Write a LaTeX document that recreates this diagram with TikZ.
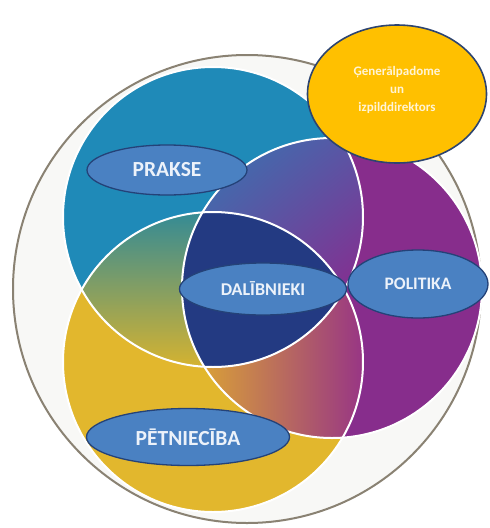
\documentclass[tikz,border=0pt]{standalone}
\usepackage{fontspec}
\setmainfont{Carlito}
\usetikzlibrary{shapes.geometric,shadings}
\definecolor{outerfill}{RGB}{248,248,246}
\definecolor{outeredge}{RGB}{138,130,115}
\definecolor{prblue}{RGB}{31,138,184}
\definecolor{pryellow}{RGB}{226,183,45}
\definecolor{prpurple}{RGB}{135,45,140}
\definecolor{prnavy}{RGB}{35,58,130}
\definecolor{lblfill}{RGB}{74,129,194}
\definecolor{lbledge}{RGB}{36,66,120}
\definecolor{lbltext}{RGB}{236,242,250}
\definecolor{genfill}{RGB}{255,192,0}
\definecolor{genedge}{RGB}{45,68,112}
\begin{document}
\begin{tikzpicture}[x=1pt, y=-1pt,
    lbl/.style={ellipse, draw=lbledge, line width=1.3pt, fill=lblfill, text=lbltext, inner sep=0pt},
    rim/.style={draw=white, line width=2pt}]
  \useasboundingbox (0,0) rectangle (490,528);
  % outer ring
  \draw [fill=outerfill, draw=outeredge, line width=2pt] (247,289) circle (234);
  % three big circles
  \fill [prblue] (213,217) circle (150);
  \fill [pryellow] (213,362) circle (150);
  \fill [prpurple] (332,288) circle (150);
  % overlaps
  \begin{scope}
    \clip (213,217) circle (150);
    \clip (213,362) circle (150);
    \shade [top color={rgb,255:red,50;green,138;blue,150}, bottom color={rgb,255:red,218;green,180;blue,45}] (55,210) rectangle (370,372);
  \end{scope}
  \begin{scope}
    \clip (213,217) circle (150);
    \clip (332,288) circle (150);
    \shade [upper left={rgb,255:red,45;green,125;blue,180}, upper right={rgb,255:red,90;green,85;blue,165},
      lower left={rgb,255:red,90;green,85;blue,165}, lower right={rgb,255:red,140;green,40;blue,140}] (180,130) rectangle (370,300);
  \end{scope}
  \begin{scope}
    \clip (213,362) circle (150);
    \clip (332,288) circle (150);
    \shade [left color={rgb,255:red,222;green,168;blue,50}, right color={rgb,255:red,150;green,50;blue,135}] (190,280) rectangle (368,445);
  \end{scope}
  \begin{scope}
    \clip (213,217) circle (150);
    \clip (213,362) circle (150);
    \fill [prnavy] (332,288) circle (150);
  \end{scope}
  % white rims
  \draw [rim] (213,217) circle (150);
  \draw [rim] (213,362) circle (150);
  \draw [rim] (332,288) circle (150);
  % labels
  \node [lbl, minimum width=160pt, minimum height=50pt, font=\fontsize{21.5}{24}\selectfont\bfseries] (prakse) at (167,170) {PRAKSE};
  \node [lbl, minimum width=167pt, minimum height=52pt, font=\fontsize{18}{21}\selectfont\bfseries] (dal) at (263,289) {DALĪBNIEKI};
  \node [lbl, minimum width=140pt, minimum height=68pt, font=\fontsize{17.5}{21}\selectfont\bfseries] (pol) at (418,284) {POLITIKA};
  \node [lbl, minimum width=203pt, minimum height=57pt, font=\fontsize{21.5}{24}\selectfont\bfseries] (pet) at (188,437) {PĒTNIECĪBA};
  \node [ellipse, draw=genedge, line width=1.6pt, fill=genfill, inner sep=0pt,
    minimum width=179pt, minimum height=138pt] (gen) at (397,94) {};
  \node [text={rgb,255:red,255;green,244;blue,214}, align=center, font=\fontsize{13}{18}\selectfont\bfseries] (gentext)
    at ([yshift=4pt]gen.center) {Ģenerālpadome\\un\\izpilddirektors};
\end{tikzpicture}
\end{document}
